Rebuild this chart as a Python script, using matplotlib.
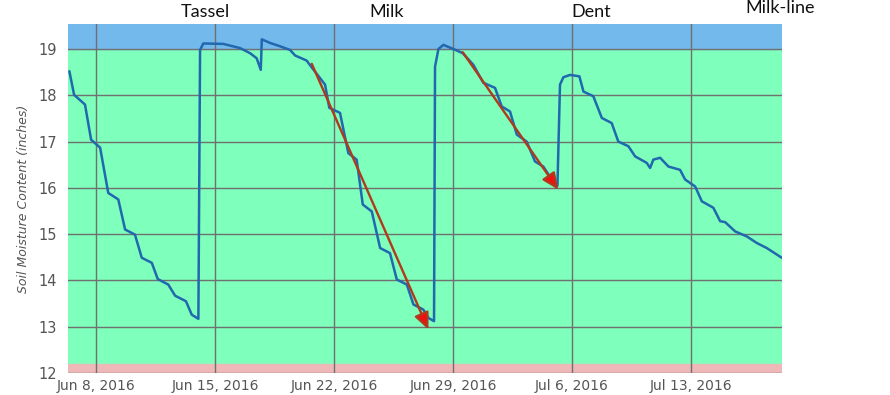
import numpy as np
import matplotlib
matplotlib.use('Agg')
import matplotlib.pyplot as plt
import matplotlib.dates as mdates

# soil moisture trace, x in days after Jun 8 2016
days = [-1.57, -1.29, -0.65, -0.29, 0.24, 0.72, 1.31, 1.71, 2.29, 2.69, 3.28, 3.63, 4.25, 4.65,
        5.29, 5.63, 6.02, 6.12, 6.31, 7.49, 8.47, 9.06, 9.45, 9.69, 9.75, 10.24, 10.82, 11.41,
        11.71, 12.39, 12.69, 13.18, 13.47, 13.72, 14.35, 14.84, 15.33, 15.69, 16.22, 16.71,
        17.29, 17.69, 18.28, 18.67, 19.25, 19.55, 19.88, 19.94, 20.14, 20.43, 21.02, 21.57,
        22.19, 22.78, 23.47, 23.86, 24.35, 24.75, 25.33, 25.82, 26.31, 26.81, 27.14, 27.29,
        27.49, 27.88, 28.43, 28.67, 29.25, 29.75, 30.33, 30.72, 31.31, 31.71, 32.39, 32.59,
        32.78, 33.18, 33.67, 34.35, 34.65, 35.24, 35.63, 36.31, 36.71, 37.0, 37.59, 38.28,
        38.86, 39.45, 40.04, 40.33]
moisture = [18.52, 18.01, 17.8, 17.04, 16.87, 15.89, 15.75, 15.1, 14.99, 14.49, 14.38, 14.03,
            13.91, 13.67, 13.55, 13.26, 13.17, 18.98, 19.12, 19.11, 19.02, 18.91, 18.8, 18.55,
            19.21, 19.13, 19.06, 18.98, 18.86, 18.75, 18.6, 18.37, 18.23, 17.73, 17.62, 16.75,
            16.61, 15.64, 15.49, 14.7, 14.59, 14.02, 13.91, 13.48, 13.37, 13.19, 13.12, 18.62,
            19.0, 19.09, 19.0, 18.91, 18.66, 18.27, 18.16, 17.76, 17.65, 17.15, 17.0, 16.57,
            16.46, 16.18, 16.05, 18.23, 18.39, 18.44, 18.41, 18.08, 17.98, 17.51, 17.4, 17.0,
            16.9, 16.68, 16.54, 16.43, 16.61, 16.65, 16.46, 16.39, 16.18, 16.03, 15.71, 15.57,
            15.28, 15.26, 15.06, 14.95, 14.81, 14.7, 14.56, 14.49]

# trend arrows: (start day, start value, end day, end value)
arrow_start_days = [12.69, 21.57, 33.18]
arrow_start_vals = [18.68, 18.93, 16.65]
arrow_end_days = [19.55, 27.19, 40.43]
arrow_end_vals = [12.94, 15.96, 14.27]

stages = ['Tassel', 'Milk', 'Dent', 'Milk-line']
tick_labels = ['Jun 8, 2016', 'Jun 15, 2016', 'Jun 22, 2016', 'Jun 29, 2016',
               'Jul 6, 2016', 'Jul 13, 2016']

base = np.datetime64('2016-06-08T00:00')


def to_date(d):
    return base + (np.asarray(d) * 24 * 60).astype('timedelta64[m]')


def main():
    fig = plt.figure(figsize=(8.9, 3.95), dpi=100)
    ax = fig.add_axes([0.0764, 0.0557, 0.8023, 0.8835])

    ax.set_xlim(to_date(-1.65), to_date(40.35))
    ax.set_ylim(12, 19.54)

    # zone bands
    ax.set_facecolor('#7effbb')
    ax.axhspan(19.0, 19.54, color='#74b9ec', zorder=0)
    ax.axhspan(12.0, 12.2, color='#efb8b8', zorder=0)

    ax.plot(to_date(days), moisture, color='#2168ae', linewidth=1.8, zorder=3,
            solid_joinstyle='round', solid_capstyle='round')

    for sx, sy, ex, ey in zip(arrow_start_days, arrow_start_vals, arrow_end_days, arrow_end_vals):
        ax.annotate('', xy=(mdates.date2num(to_date(ex)), ey),
                    xytext=(mdates.date2num(to_date(sx)), sy),
                    arrowprops=dict(arrowstyle='-|>,head_length=1.0,head_width=0.45',
                                    edgecolor='#b03a1c', facecolor='#f01010',
                                    lw=1.7, shrinkA=0, shrinkB=0),
                    zorder=4)

    tick_days = [0, 7, 14, 21, 28, 35]
    ax.set_xticks([mdates.date2num(to_date(d)) for d in tick_days])
    ax.set_xticklabels(tick_labels)
    ax.set_yticks(range(12, 20))

    ax.grid(True, color='#707070', linewidth=1.0, zorder=1)
    ax.set_axisbelow(True)
    for s in ax.spines.values():
        s.set_visible(False)
    ax.tick_params(length=0, labelsize=10, colors='#555555')
    ax.tick_params(axis='x', pad=4)
    ax.tick_params(axis='y', pad=8, labelsize=10.5)

    ax.set_ylabel('Soil Moisture Content (inches)', fontsize=9, style='italic',
                  color='#555555', labelpad=6)

    xs = [205, 387, 591, 780]
    ys = [12, 12, 12, 8]
    for name, x, y in zip(stages, xs, ys):
        fig.text(x / 890, 1 - y / 395, name, ha='center', va='center',
                 fontsize=13, family='Lato', color='#111111')

    fig.savefig('out.png', dpi=100)


if __name__ == '__main__':
    main()
